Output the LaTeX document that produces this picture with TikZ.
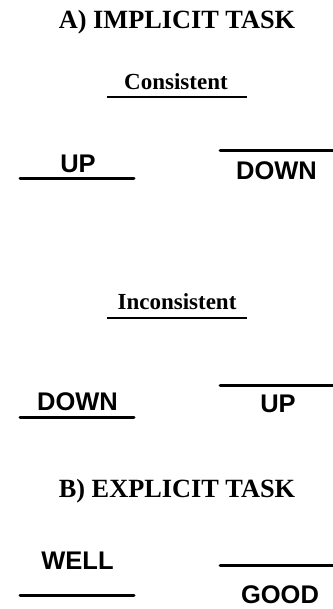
\documentclass[tikz,border=0pt]{standalone}
\usepackage{fontspec}
\setmainfont{Liberation Serif}
\newfontfamily\arialfont{Liberation Sans}
\begin{document}
\begin{tikzpicture}[x=1pt,y=-1pt,
  title/.style={anchor=base,inner sep=0pt,font=\fontsize{26.3}{28}\selectfont\bfseries},
  sub/.style={anchor=base,inner sep=0pt,font=\fontsize{23}{25}\selectfont\bfseries},
  word/.style={anchor=base,inner sep=0pt,font=\arialfont\fontsize{25.5}{27}\selectfont\bfseries},
  bar/.style={line width=3pt,line cap=round},
  uline/.style={line width=2pt}]
\useasboundingbox (0,0) rectangle (332,609);
% Part A
\node[title] (ta) at (177,29) {A) IMPLICIT TASK};
\node[sub] (cons) at (176,90) {Consistent};
\draw[uline] (107,97) -- (247,97);
\node[word] (up1) at (78,173) {UP};
\draw[bar] (20,179) -- (134,179);
\node[word] (down1) at (276.5,180) {DOWN};
\draw[bar] (220,151) -- (334,151);
\node[sub] (incons) at (177,309) {Inconsistent};
\draw[uline] (107,318) -- (247,318);
\node[word] (down2) at (77.5,410) {DOWN};
\draw[bar] (20,417) -- (134,417);
\node[word] (up2) at (278,412) {UP};
\draw[bar] (220,385) -- (334,385);
% Part B
\node[title] (tb) at (177,497) {B) EXPLICIT TASK};
\node[word] (well) at (77.5,569) {WELL};
\draw[bar] (20,595) -- (134,595);
\draw[bar] (220,565) -- (334,565);
\node[word] (good) at (280,603.5) {GOOD};
\end{tikzpicture}
\end{document}
